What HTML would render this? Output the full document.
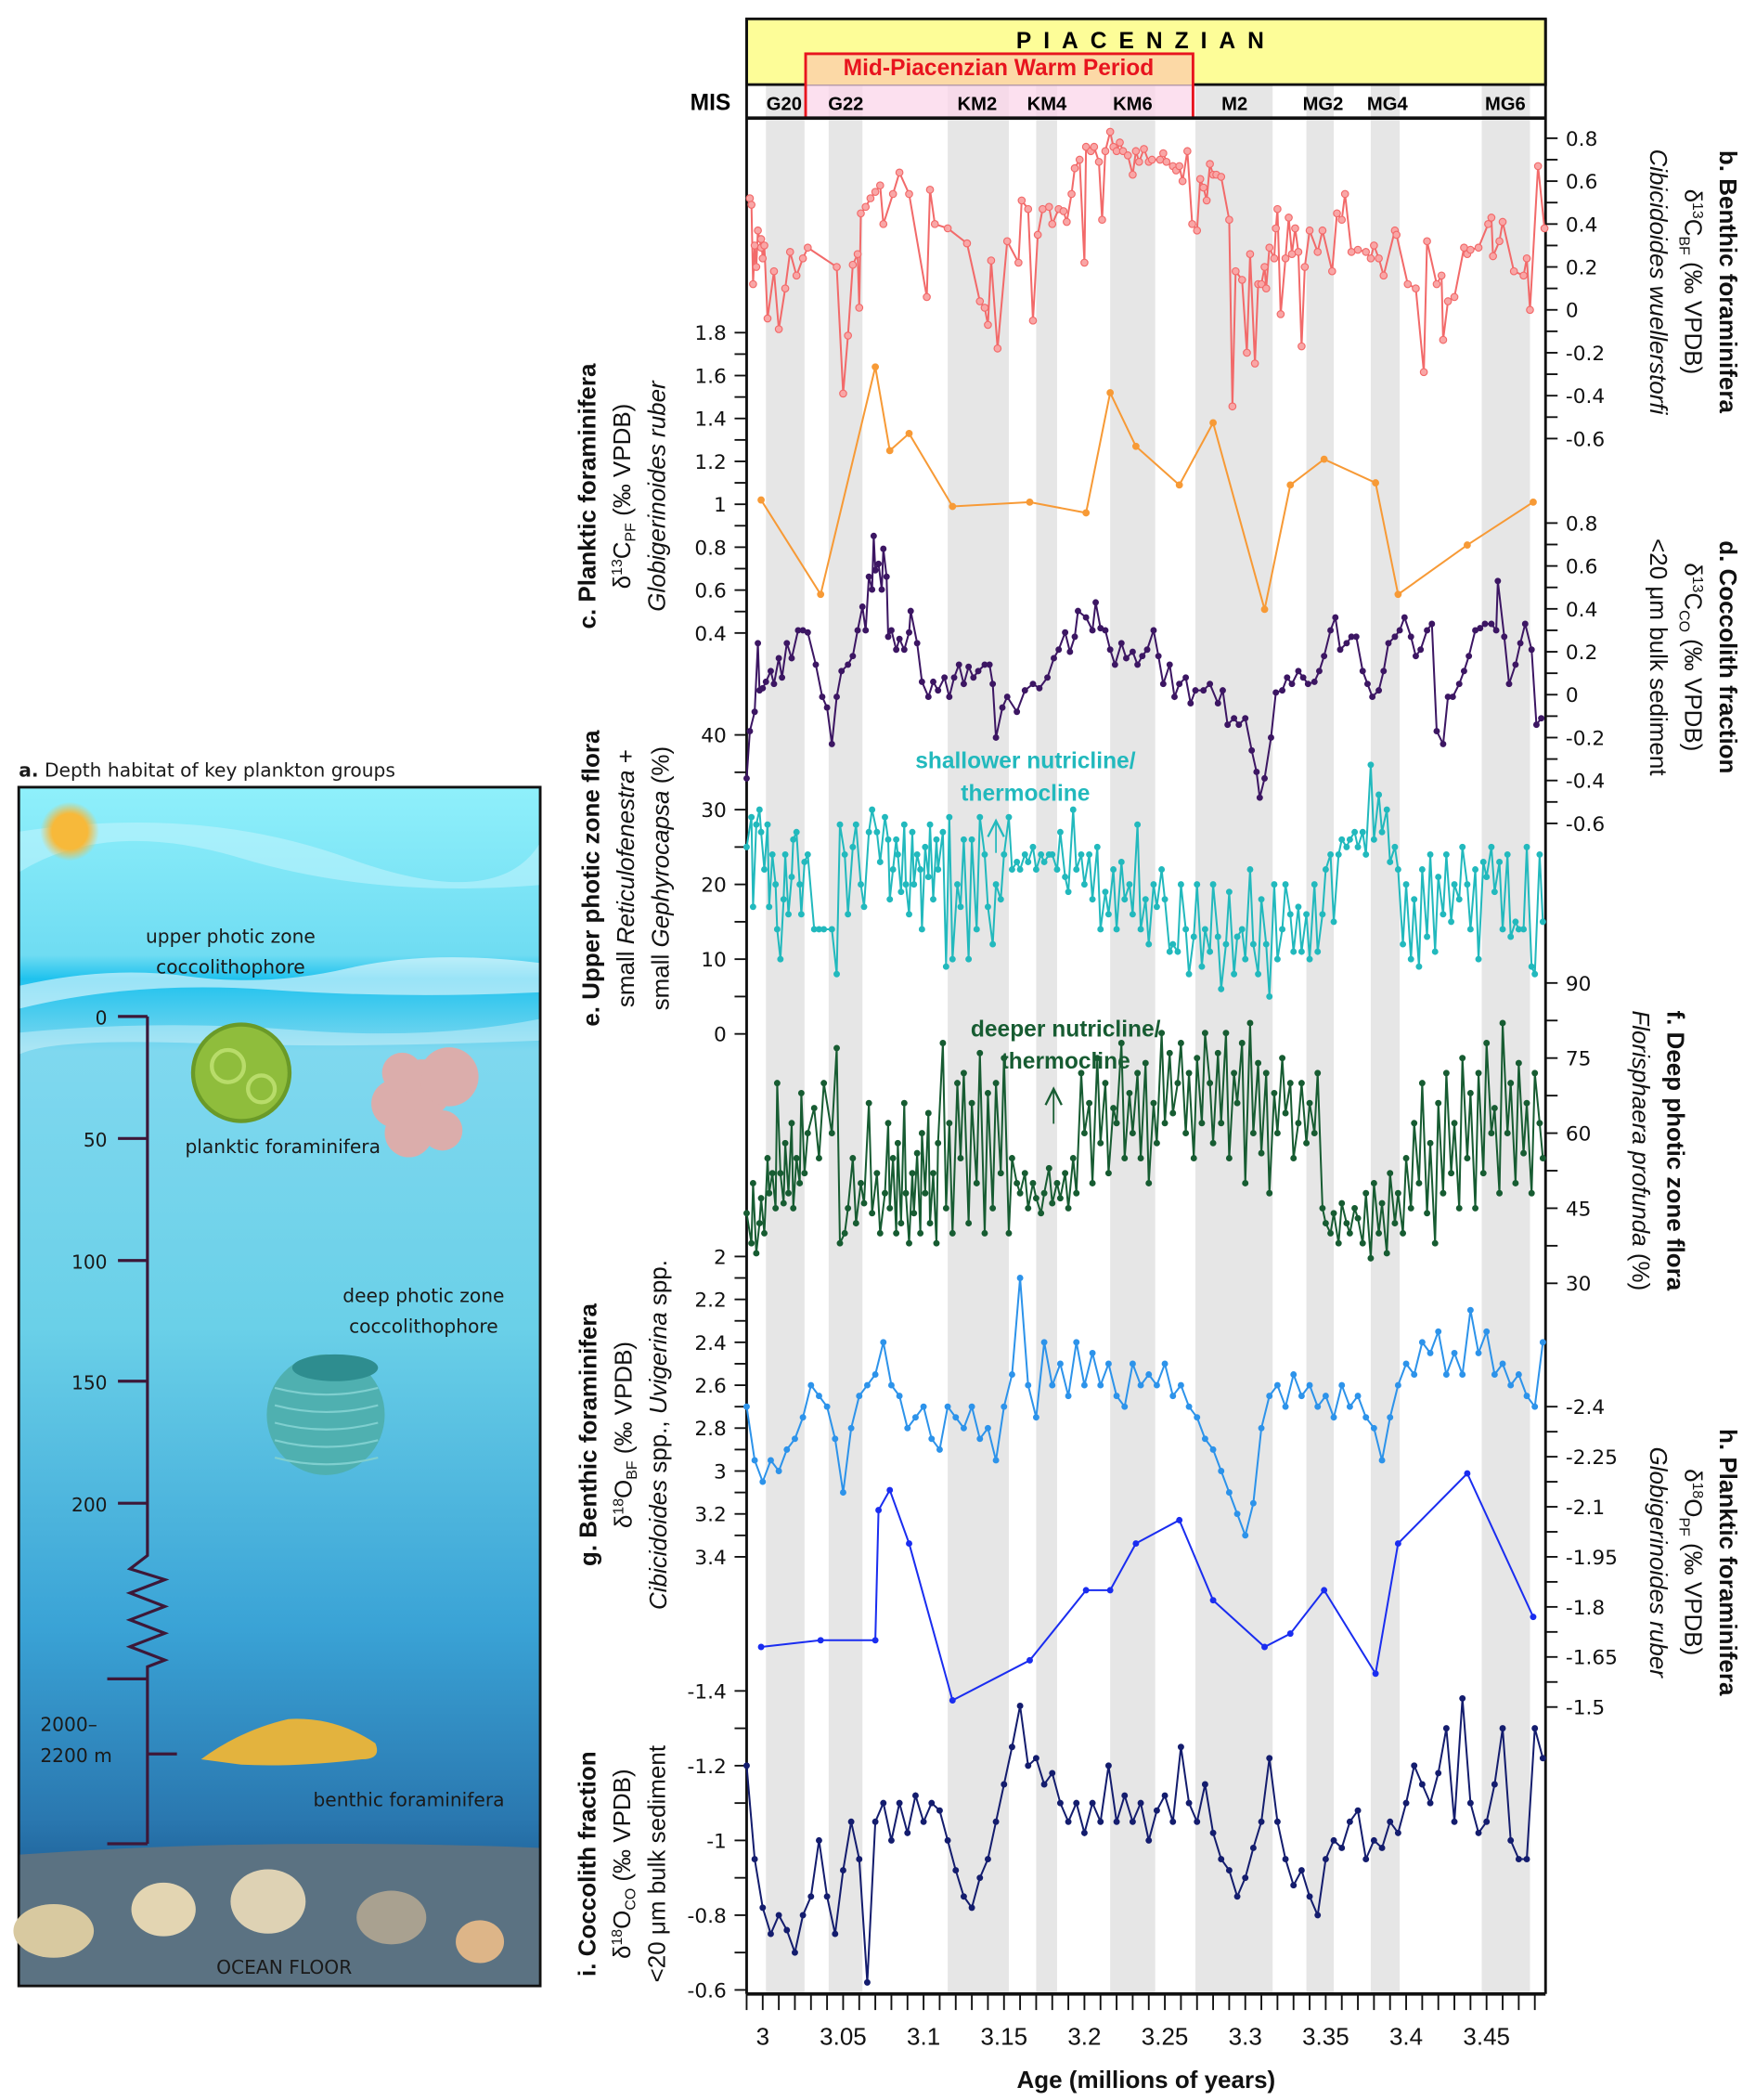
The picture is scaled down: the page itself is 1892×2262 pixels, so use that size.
<!DOCTYPE html>
<html><head><meta charset="utf-8"><title>Piacenzian records</title>
<style>
html,body{margin:0;padding:0;background:#fff;}
svg{display:block;}
.tk{font-family:"DejaVu Sans","Liberation Sans",sans-serif;font-size:15px;fill:#111;}
.ttl{font-family:"Liberation Sans Narrow","Liberation Sans",sans-serif;font-size:18px;fill:#111;}
.lp{font-family:"DejaVu Sans","Liberation Sans",sans-serif;font-size:14px;fill:#1a1a1a;}
</style></head>
<body>
<svg id="fig" width="1892" height="2262" viewBox="0 0 1310 1566" xmlns="http://www.w3.org/2000/svg">
<defs>
<linearGradient id="sea" x1="0" y1="0" x2="0" y2="1">
<stop offset="0" stop-color="#8ff0fb"/><stop offset="0.14" stop-color="#6fdcf2"/>
<stop offset="0.16" stop-color="#1fc2ee"/><stop offset="0.22" stop-color="#7fd8ef"/>
<stop offset="0.45" stop-color="#6ad0e8"/><stop offset="0.7" stop-color="#3aa3d6"/>
<stop offset="0.86" stop-color="#2a78b0"/><stop offset="0.92" stop-color="#1d5d94"/>
<stop offset="0.93" stop-color="#5a7486"/><stop offset="1" stop-color="#5a7080"/>
</linearGradient>
<radialGradient id="sun"><stop offset="0.6" stop-color="#f7b93a"/><stop offset="1" stop-color="#f7b93a" stop-opacity="0"/></radialGradient>
</defs>
<g id="panelA"></g>
<g id="chart"></g>
</svg>
<script>
// ---------- DATA ----------
const bandStart=[3.002,3.041,3.115,3.170,3.216,3.269,3.338,3.378,3.447];
const bandEnd  =[3.026,3.062,3.153,3.183,3.244,3.317,3.355,3.396,3.477];
const misLabels=["G20","G22","KM2","KM4","KM6","M2","MG2","MG4","MG6"];
const xTickLabels=["3","3.05","3.1","3.15","3.2","3.25","3.3","3.35","3.4","3.45"];
const xTickVals=[3,3.05,3.1,3.15,3.2,3.25,3.3,3.35,3.4,3.45];

const redAge=[2.992,2.993,2.994,2.995,2.996,2.997,2.999,2.999,3.000,3.001,3.003,3.007,3.010,3.014,3.017,3.021,3.025,3.028,3.046,3.050,3.053,3.056,3.059,3.060,3.061,3.064,3.067,3.070,3.073,3.075,3.081,3.085,3.091,3.102,3.104,3.107,3.115,3.127,3.135,3.138,3.140,3.142,3.146,3.152,3.159,3.161,3.165,3.168,3.171,3.174,3.178,3.180,3.184,3.187,3.189,3.192,3.194,3.197,3.200,3.201,3.204,3.206,3.209,3.211,3.213,3.216,3.218,3.220,3.222,3.224,3.227,3.230,3.232,3.234,3.237,3.240,3.242,3.247,3.249,3.251,3.255,3.257,3.259,3.261,3.264,3.267,3.270,3.272,3.274,3.276,3.278,3.280,3.282,3.285,3.290,3.292,3.294,3.298,3.301,3.303,3.306,3.308,3.310,3.312,3.313,3.315,3.318,3.319,3.320,3.322,3.325,3.327,3.329,3.331,3.333,3.335,3.337,3.340,3.345,3.348,3.354,3.357,3.360,3.362,3.366,3.370,3.375,3.378,3.380,3.383,3.386,3.393,3.394,3.401,3.406,3.411,3.413,3.419,3.422,3.423,3.426,3.430,3.436,3.438,3.440,3.445,3.451,3.453,3.454,3.458,3.460,3.467,3.473,3.475,3.477,3.482,3.486];
const redVal=[0.52,0.49,0.12,0.30,0.20,0.37,0.29,0.33,0.24,0.30,-0.04,0.18,-0.09,0.10,0.27,0.16,0.24,0.29,0.20,-0.39,-0.12,0.21,0.26,0.01,0.45,0.48,0.52,0.55,0.58,0.40,0.54,0.64,0.54,0.06,0.56,0.40,0.38,0.31,0.04,0.01,-0.07,0.23,-0.18,0.32,0.22,0.51,0.47,-0.05,0.35,0.47,0.48,0.40,0.47,0.46,0.41,0.54,0.66,0.70,0.22,0.76,0.74,0.76,0.69,0.42,0.74,0.83,0.76,0.74,0.78,0.74,0.72,0.63,0.74,0.69,0.75,0.69,0.70,0.70,0.73,0.69,0.67,0.65,0.67,0.60,0.74,0.40,0.37,0.61,0.57,0.51,0.68,0.63,0.63,0.62,0.42,-0.45,0.18,0.14,-0.20,0.26,-0.25,0.12,0.12,0.20,0.10,0.29,0.24,0.38,0.47,-0.02,0.24,0.43,0.26,0.38,0.27,-0.17,0.20,0.37,0.27,0.37,0.18,0.45,0.42,0.54,0.27,0.28,0.27,0.24,0.30,0.24,0.16,0.37,0.35,0.12,0.10,-0.29,0.32,0.12,0.16,-0.14,0.04,0.06,0.29,0.26,0.28,0.29,0.40,0.43,0.25,0.32,0.41,0.18,0.16,0.24,0.00,0.67,0.38];

const orangeAge=[2.999,3.036,3.070,3.079,3.091,3.118,3.166,3.201,3.216,3.232,3.259,3.280,3.312,3.328,3.349,3.381,3.395,3.438,3.479];
const orangeVal=[1.02,0.58,1.64,1.25,1.33,0.99,1.01,0.96,1.52,1.27,1.09,1.38,0.51,1.09,1.21,1.10,0.58,0.81,1.01];

const purpleAge=[2.990,2.992,2.995,2.997,2.998,3.000,3.002,3.005,3.007,3.010,3.012,3.015,3.018,3.022,3.025,3.028,3.033,3.037,3.040,3.043,3.046,3.049,3.053,3.056,3.059,3.062,3.064,3.066,3.068,3.069,3.070,3.072,3.074,3.075,3.077,3.078,3.080,3.083,3.085,3.088,3.091,3.092,3.096,3.099,3.103,3.106,3.109,3.113,3.116,3.119,3.122,3.125,3.128,3.131,3.134,3.138,3.141,3.143,3.145,3.149,3.152,3.158,3.163,3.168,3.172,3.177,3.181,3.184,3.188,3.191,3.194,3.196,3.201,3.205,3.207,3.210,3.213,3.216,3.219,3.223,3.226,3.230,3.233,3.236,3.239,3.243,3.246,3.249,3.253,3.256,3.259,3.263,3.266,3.269,3.274,3.278,3.283,3.286,3.289,3.293,3.296,3.300,3.304,3.307,3.309,3.312,3.316,3.319,3.323,3.326,3.329,3.333,3.336,3.339,3.343,3.346,3.349,3.353,3.356,3.359,3.363,3.366,3.369,3.373,3.376,3.379,3.383,3.386,3.389,3.393,3.396,3.399,3.403,3.406,3.409,3.413,3.416,3.419,3.423,3.426,3.429,3.433,3.436,3.439,3.443,3.446,3.449,3.453,3.456,3.457,3.461,3.464,3.468,3.471,3.474,3.478,3.481,3.484];
const purpleVal=[-0.39,-0.17,-0.08,0.24,0.02,0.03,0.06,0.11,0.05,0.17,0.08,0.24,0.17,0.30,0.30,0.29,0.14,-0.01,-0.06,-0.23,-0.01,0.11,0.14,0.18,0.30,0.41,0.30,0.55,0.49,0.74,0.58,0.61,0.49,0.68,0.55,0.27,0.30,0.21,0.26,0.21,0.29,0.39,0.24,0.06,-0.01,0.06,0.02,0.08,-0.01,0.08,0.14,0.05,0.13,0.08,0.11,0.14,0.14,0.05,-0.20,-0.06,-0.01,-0.08,0.02,0.05,0.03,0.08,0.17,0.21,0.29,0.20,0.27,0.39,0.36,0.30,0.43,0.31,0.30,0.21,0.14,0.24,0.17,0.20,0.14,0.18,0.21,0.30,0.18,0.05,0.14,-0.01,0.05,0.08,-0.04,0.02,0.02,0.05,-0.04,0.02,-0.14,-0.11,-0.14,-0.11,-0.26,-0.36,-0.48,-0.39,-0.20,0.01,0.02,0.08,0.05,0.11,0.08,0.05,0.06,0.11,0.18,0.30,0.36,0.21,0.24,0.27,0.27,0.11,0.05,-0.01,0.02,0.11,0.24,0.27,0.30,0.36,0.27,0.18,0.21,0.30,0.33,-0.17,-0.23,-0.01,-0.01,0.05,0.11,0.18,0.30,0.31,0.33,0.33,0.30,0.53,0.27,0.05,0.14,0.24,0.33,0.21,-0.14,-0.11];

const cocAge=[2.990,2.993,2.994,2.996,2.998,2.999,3.001,3.003,3.004,3.006,
3.008,3.009,3.011,3.013,3.014,3.016,3.018,3.019,3.021,3.023,
3.024,3.026,3.028,3.032,3.035,3.038,3.043,3.046,3.048,3.051,
3.053,3.056,3.058,3.061,3.063,3.066,3.068,3.071,3.073,3.076,
3.078,3.079,3.081,3.083,3.084,3.086,3.088,3.089,3.091,3.093,
3.094,3.096,3.098,3.099,3.101,3.103,3.104,3.106,3.108,3.109,
3.112,3.114,3.116,3.118,3.121,3.123,3.125,3.128,3.130,3.133,
3.135,3.138,3.140,3.143,3.145,3.148,3.150,3.153,3.155,3.158,
3.160,3.163,3.165,3.168,3.170,3.173,3.175,3.178,3.180,3.183,
3.185,3.188,3.190,3.193,3.195,3.198,3.200,3.203,3.205,3.208,
3.210,3.213,3.215,3.218,3.220,3.223,3.225,3.228,3.230,3.233,
3.235,3.238,3.240,3.243,3.245,3.248,3.250,3.253,3.255,3.258,
3.260,3.263,3.265,3.268,3.270,3.273,3.275,3.278,3.280,3.283,
3.285,3.288,3.290,3.293,3.295,3.298,3.300,3.303,3.305,3.308,
3.310,3.313,3.315,3.318,3.320,3.323,3.325,3.328,3.330,3.333,
3.335,3.338,3.340,3.343,3.345,3.348,3.350,3.353,3.355,3.358,
3.360,3.363,3.365,3.368,3.370,3.373,3.375,3.378,3.380,3.383,
3.385,3.388,3.390,3.393,3.395,3.398,3.400,3.403,3.405,3.408,
3.410,3.413,3.415,3.418,3.420,3.423,3.425,3.428,3.430,3.433,
3.435,3.438,3.440,3.443,3.445,3.448,3.450,3.453,3.455,3.458,
3.460,3.463,3.465,3.468,3.470,3.473,3.475,3.478,3.480,3.483,
3.485];
const tealVal=[25,29,17,28,30,27,22,28,17,24,
20,14,10,18,24,16,21,26,27,20,
16,23,24,14,14,14,14,8,28,24,
16,25,28,20,17,27,30,27,23,29,
26,18,22,26,24,19,28,20,16,27,
20,24,22,14,25,21,28,18,26,22,
27,9,29,10,20,17,26,10,26,14,
29,24,17,12,20,18,24,29,22,23,
22,24,23,25,22,24,23,24,24,22,
27,21,19,30,22,24,20,24,18,25,
14,19,16,22,14,23,18,20,16,28,
14,18,12,20,17,22,18,11,12,11,
20,14,8,13,20,9,14,11,20,13,
6,12,19,8,13,14,10,22,12,8,
18,12,5,20,10,14,20,16,11,17,
11,16,10,20,11,16,22,24,15,24,
26,25,26,27,25,27,24,36,26,32,
27,30,23,25,22,12,20,10,18,9,
22,13,24,11,21,16,24,15,20,18,
25,20,14,22,10,23,21,25,19,23,
14,24,13,15,14,14,25,9,8,24,
15];
const greenVal=[44,38,50,36,42,47,40,55,48,52,
45,70,52,46,58,48,62,45,55,50,
68,52,60,65,55,70,60,77,38,40,
45,55,42,50,46,66,44,52,40,48,
62,45,55,40,58,42,66,48,38,52,
44,56,40,60,48,64,42,52,38,58,
78,45,62,40,70,55,72,42,66,50,
76,40,68,45,70,52,75,40,55,50,
48,52,45,50,47,44,48,53,46,50,
47,52,45,55,48,72,60,66,50,75,
58,70,52,65,62,78,55,68,60,72,
55,74,50,66,58,80,62,76,64,70,
78,60,72,55,75,62,80,70,58,76,
62,80,55,72,66,78,50,82,60,74,
56,72,48,68,60,75,64,70,55,62,
70,58,66,60,72,45,42,40,44,38,
46,42,40,45,43,38,48,35,50,40,
46,36,52,42,48,40,55,45,62,50,
70,44,58,38,66,48,72,52,62,45,
75,55,68,45,72,52,78,60,65,48,
82,60,70,50,74,56,66,48,72,62,
55];

const ageB=[2.990,2.995,3.000,3.005,3.010,3.015,3.020,3.025,3.030,3.035,
3.040,3.045,3.050,3.055,3.060,3.065,3.070,3.075,3.080,3.085,
3.090,3.095,3.100,3.105,3.110,3.115,3.120,3.125,3.130,3.135,
3.140,3.145,3.150,3.155,3.160,3.165,3.170,3.175,3.180,3.185,
3.190,3.195,3.200,3.205,3.210,3.215,3.220,3.225,3.230,3.235,
3.240,3.245,3.250,3.255,3.260,3.265,3.270,3.275,3.280,3.285,
3.290,3.295,3.300,3.305,3.310,3.315,3.320,3.325,3.330,3.335,
3.340,3.345,3.350,3.355,3.360,3.365,3.370,3.375,3.380,3.385,
3.390,3.395,3.400,3.405,3.410,3.415,3.420,3.425,3.430,3.435,
3.440,3.445,3.450,3.455,3.460,3.465,3.470,3.475,3.480,3.485];
const lblueVal=[2.70,2.95,3.05,2.95,3.00,2.90,2.85,2.75,2.60,2.65,
2.70,2.85,3.10,2.80,2.65,2.60,2.55,2.40,2.60,2.65,
2.80,2.75,2.70,2.85,2.90,2.70,2.75,2.80,2.70,2.85,
2.80,2.95,2.70,2.55,2.10,2.60,2.75,2.40,2.60,2.50,
2.65,2.40,2.60,2.45,2.60,2.50,2.65,2.70,2.50,2.60,
2.55,2.60,2.50,2.65,2.60,2.70,2.75,2.85,2.90,3.00,
3.10,3.20,3.30,3.15,2.80,2.65,2.60,2.70,2.55,2.65,
2.60,2.70,2.65,2.75,2.60,2.70,2.65,2.75,2.80,2.95,
2.75,2.60,2.50,2.55,2.40,2.45,2.35,2.55,2.45,2.55,
2.25,2.45,2.35,2.55,2.50,2.60,2.55,2.65,2.70,2.40];
const navyVal=[-1.20,-0.95,-0.82,-0.75,-0.80,-0.76,-0.70,-0.80,-0.85,-1.00,
-0.85,-0.75,-0.92,-1.05,-0.95,-0.62,-1.05,-1.10,-1.00,-1.10,
-1.02,-1.12,-1.05,-1.10,-1.08,-1.00,-0.92,-0.85,-0.82,-0.90,
-0.95,-1.05,-1.15,-1.25,-1.36,-1.20,-1.22,-1.15,-1.18,-1.10,
-1.05,-1.10,-1.02,-1.10,-1.05,-1.20,-1.05,-1.12,-1.05,-1.10,
-1.00,-1.08,-1.12,-1.05,-1.25,-1.10,-1.05,-1.15,-1.02,-0.95,
-0.92,-0.85,-0.90,-0.98,-1.05,-1.22,-1.05,-0.95,-0.88,-0.92,
-0.85,-0.80,-0.95,-1.00,-0.98,-1.05,-1.08,-0.95,-1.00,-0.98,
-1.05,-1.02,-1.10,-1.20,-1.15,-1.10,-1.18,-1.30,-1.05,-1.38,
-1.10,-1.02,-1.05,-1.15,-1.30,-1.00,-0.95,-0.95,-1.30,-1.22];

const blueAge=[2.999,3.036,3.070,3.072,3.079,3.091,3.118,3.166,3.201,3.216,3.232,3.259,3.280,3.312,3.328,3.349,3.381,3.395,3.438,3.479];
const blueVal=[-1.68,-1.70,-1.70,-2.09,-2.15,-1.99,-1.52,-1.64,-1.85,-1.85,-1.99,-2.06,-1.82,-1.68,-1.72,-1.85,-1.60,-1.99,-2.20,-1.77];

const ticksB=[0.8,0.6,0.4,0.2,0,-0.2,-0.4,-0.6];
const ticksC=[1.8,1.6,1.4,1.2,1,0.8,0.6,0.4];
const ticksD=[0.8,0.6,0.4,0.2,0,-0.2,-0.4,-0.6];
const ticksE=[40,30,20,10,0];
const ticksF=[90,75,60,45,30];
const ticksG=[2,2.2,2.4,2.6,2.8,3,3.2,3.4];
const ticksH=[-2.4,-2.25,-2.1,-1.95,-1.8,-1.65,-1.5];
const ticksI=[-1.4,-1.2,-1,-0.8,-0.6];

// ---------- HELPERS ----------
const NS="http://www.w3.org/2000/svg";
const chart=document.getElementById('chart');
const pa=document.getElementById('panelA');
function mk(tag,attrs,parent,txt){const e=document.createElementNS(NS,tag);for(const k in attrs)e.setAttribute(k,attrs[k]);if(txt!==undefined)e.textContent=txt;(parent||chart).appendChild(e);return e;}
const X0=557,X1=1153,TOP=14,BOT=1487;
const xs=a=>569+(a-3)*1200;
const yB=v=>231-v*160, yC=v=>472-(v-0.4)*160, yD=v=>518-v*160, yE=v=>771-v*5.575,
      yF=v=>957-(v-30)*3.733, yG=v=>937+(v-2)*160, yH=v=>1049+(v+2.4)*248.9, yI=v=>1261+(v+1.4)*278.75;

// ---------- PANEL A ----------
mk('text',{x:14,y:579,class:'lp','font-size':'15.5'},pa,'').innerHTML='<tspan font-weight="bold">a.</tspan> Depth habitat of key plankton groups';

let r=mk('rect',{x:14,y:587,width:389,height:894,fill:'url(#sea)',stroke:'#111','stroke-width':2},pa);

mk('path',{d:'M15 620 Q150 600 260 640 T402 630 L402 660 Q280 670 180 640 T15 650Z',fill:'#c9f6fd',opacity:0.5},pa);
mk('path',{d:'M15 735 Q80 720 140 728 T260 722 T402 718 L402 740 Q300 745 200 738 T15 752Z',fill:'#ffffff',opacity:0.55},pa);
mk('path',{d:'M15 770 Q120 760 220 768 T402 760 L402 776 Q260 782 150 778 T15 786Z',fill:'#ffffff',opacity:0.35},pa);
mk('path',{d:'M15 1383 Q200 1370 402 1378 L402 1480 L15 1480Z',fill:'#5b7282'},pa);
mk('circle',{cx:52,cy:620,r:22,fill:'url(#sun)'},pa);
// depth axis
const dg=mk('g',{stroke:'#3d1838','stroke-width':2.2,fill:'none'},pa);

mk('path',{d:'M110 758 L110 1160 L97 1170 L123 1178 L97 1188 L123 1198 L97 1208 L123 1218 L97 1228 L123 1238 L110 1243 L110 1375'},dg);
const depthLab=['0','50','100','150','200'];const depthY=[758,849,940,1030,1121];
depthLab.forEach((l,i)=>{mk('line',{x1:88,x2:110,y1:depthY[i],y2:depthY[i]},dg);const t=mk('text',{x:80,y:depthY[i]+6,'text-anchor':'end',class:'lp','font-size':'17',fill:'#3d1838'},pa,l);});
mk('line',{x1:80,x2:110,y1:1252,y2:1252},dg);mk('line',{x1:110,x2:132,y1:1308,y2:1308},dg);mk('line',{x1:80,x2:110,y1:1375,y2:1375},dg);
mk('text',{x:30,y:1291,class:'lp','font-size':'17',fill:'#3d1838'},pa,'2000–');
mk('text',{x:30,y:1314,class:'lp','font-size':'17',fill:'#3d1838'},pa,'2200 m');
// organisms
let o=mk('circle',{cx:180,cy:800,r:36,fill:'#8fbd3c',stroke:'#6a9a28','stroke-width':3},pa);
mk('circle',{cx:170,cy:795,r:12,fill:'none',stroke:'#b8dc6a','stroke-width':3},pa);mk('circle',{cx:195,cy:812,r:10,fill:'none',stroke:'#b8dc6a','stroke-width':3},pa);
const pf=mk('g',{fill:'#e6a9a4',opacity:0.9},pa);
[[315,812,22],[295,823,18],[335,803,22],[305,845,18],[330,843,15],[300,800,15]].forEach(c=>mk('circle',{cx:c[0],cy:c[1],r:c[2]},pf));
const dp=mk('g',{},pa);
mk('ellipse',{cx:243,cy:1055,rx:44,ry:45,fill:'#4fb0b0'},dp);mk('ellipse',{cx:250,cy:1020,rx:32,ry:10,fill:'#2e8d8f'},dp);
for(let k=0;k<5;k++)mk('path',{d:`M205 ${1035+k*13} Q243 ${1045+k*13} 282 ${1035+k*13}`,stroke:'#7fcfcf','stroke-width':1.5,fill:'none'},dp);
const bf=mk('path',{d:'M150 1312 Q180 1290 215 1282 Q250 1280 280 1300 Q285 1312 270 1312 Q220 1318 180 1316Z',fill:'#e3b33e'},pa);
[[40,1440,30,20,'#d8c9a0'],[122,1424,24,20,'#e3d5b2'],[200,1418,28,24,'#ded2b4'],[292,1430,26,20,'#a9a190'],[358,1448,18,16,'#ddb588']].forEach(f=>{const e=mk('ellipse',{cx:f[0],cy:f[1],rx:f[2],ry:f[3],fill:f[4]},pa);});
const txts=[['upper photic zone',172,703],['coccolithophore',172,726],['planktic foraminifera',211,860],['deep photic zone',316,971],['coccolithophore',316,994],['benthic foraminifera',305,1347],['OCEAN FLOOR',212,1472]];
txts.forEach(t=>{const e=mk('text',{x:t[1],y:t[2],'text-anchor':'middle',class:'lp','font-size':'14.5'},pa,t[0]);});

// ---------- CHART ----------
// bands
bandStart.forEach((s,i)=>{const b=mk('rect',{x:xs(s),y:63,width:xs(bandEnd[i])-xs(s),height:BOT-63,fill:'#e6e6e6'});});
// header
let h=mk('rect',{x:X0,y:TOP,width:X1-X0,height:49,fill:'#fdfd98',stroke:'#111','stroke-width':2});
let mp=mk('rect',{x:601,y:40,width:289,height:23,fill:'#fcd9a6'});
let mp2=mk('rect',{x:601,y:63,width:289,height:25,fill:'#fbd6ea',opacity:0.75});
let mpb=mk('rect',{x:601,y:40,width:289,height:48,fill:'none',stroke:'#e8141e','stroke-width':2});
let t1=mk('text',{x:855,y:36,'text-anchor':'middle','font-family':'Liberation Sans,sans-serif','font-size':'17','font-weight':'bold','letter-spacing':'9'},chart,'PIACENZIAN');
let t2=mk('text',{x:745,y:56,'text-anchor':'middle','font-family':'Liberation Sans Narrow,Liberation Sans,sans-serif','font-size':'17','font-weight':'bold',fill:'#e8141e'},chart,'Mid-Piacenzian Warm Period');
mk('line',{x1:X0,x2:X1,y1:88,y2:88,stroke:'#111','stroke-width':2.5});
let mt=mk('text',{x:530,y:82,'text-anchor':'middle','font-family':'Liberation Sans Narrow,Liberation Sans,sans-serif','font-size':'17','font-weight':'bold'},chart,'MIS');
const misX=[585,631,729,781,845,921,987,1035,1123];
misLabels.forEach((l,i)=>{const e=mk('text',{x:misX[i],y:82,'text-anchor':'middle','font-family':'Liberation Sans Narrow,Liberation Sans,sans-serif','font-size':'14','font-weight':'bold'},chart,l);});
// frame
mk('line',{x1:X0,x2:X0,y1:TOP,y2:BOT,stroke:'#111','stroke-width':2});
mk('line',{x1:X1,x2:X1,y1:TOP,y2:BOT,stroke:'#111','stroke-width':2});
mk('line',{x1:X0,x2:X1,y1:BOT,y2:BOT,stroke:'#111','stroke-width':2.5});
// x ticks
for(let k=0;k<=49;k++){const a=2.99+k*0.01;mk('line',{x1:xs(a),x2:xs(a),y1:BOT,y2:BOT+12,stroke:'#111','stroke-width':1.3});}
xTickVals.forEach((v,i)=>{const e=mk('text',{x:xs(v),y:1525,'text-anchor':'middle',class:'ttl','font-size':'17'},chart,xTickLabels[i]);});
let xt=mk('text',{x:855,y:1557,'text-anchor':'middle',class:'ttl','font-size':'19','font-weight':'bold'},chart,'Age (millions of years)');

function axis(ticks,yf,side,name){
  const g=mk('g',{});
  const sx=side==='right'?X1:X0, d=side==='right'?1:-1;
  ticks.forEach((v,i)=>{const y=yf(v);mk('line',{x1:sx,x2:sx+d*9,y1:y,y2:y,stroke:'#111','stroke-width':1.3},g);
    if(i<ticks.length-1){const ym=(y+yf(ticks[i+1]))/2;mk('line',{x1:sx,x2:sx+d*9,y1:ym,y2:ym,stroke:'#111','stroke-width':1.3},g);}
    const e=mk('text',{x:sx+d*15,y:y+5.5,'text-anchor':side==='right'?'start':'end',class:'tk'},g,String(v));});
}
axis(ticksB,yB,'right','axis-b');axis(ticksC,yC,'left','axis-c');axis(ticksD,yD,'right','axis-d');axis(ticksE,yE,'left','axis-e');
axis(ticksF,yF,'right','axis-f');axis(ticksG,yG,'left','axis-g');axis(ticksH,yH,'right','axis-h');axis(ticksI,yI,'left','axis-i');

function series(ages,vals,yf,color,rad,name,fill){
  const g=mk('g',{});
  const n=Math.min(ages.length,vals.length);let d='';
  for(let i=0;i<n;i++)d+=(i?'L':'M')+xs(ages[i]).toFixed(1)+' '+yf(vals[i]).toFixed(1);
  mk('path',{d:d,fill:'none',stroke:color,'stroke-width':1.4},g);
  for(let i=0;i<n;i++){const c=mk('circle',{cx:xs(ages[i]),cy:yf(vals[i]),r:rad,fill:fill||color,stroke:color,'stroke-width':0.8},g);
    
    }
}
series(redAge,redVal,yB,'#f26a6a',2.6,'benthic-d13c','#f9a6a6');
series(orangeAge,orangeVal,yC,'#f79a36',2.3,'planktic-d13c');
series(purpleAge,purpleVal,yD,'#3c1663',2,'coccolith-d13c');
series(cocAge,tealVal,yE,'#22b9bd',2,'upper-photic-flora');
series(cocAge,greenVal,yF,'#175c32',2,'deep-photic-flora');
series(ageB,lblueVal,yG,'#2d93ea',2,'benthic-d18o');
series(blueAge,blueVal,yH,'#1a2df0',2,'planktic-d18o');
series(ageB,navyVal,yI,'#141d6e',2,'coccolith-d18o');

// annotations
function ann(lines,x,y,color,ax,ay1,ay2,name){
  const g=mk('g',{});
  lines.forEach((l,i)=>mk('text',{x:x,y:y+i*24,'text-anchor':'middle','font-family':'Liberation Sans Narrow,Liberation Sans,sans-serif','font-size':'17','font-weight':'bold',fill:color},g,l));
  mk('line',{x1:ax,x2:ax,y1:ay1,y2:ay2,stroke:color,'stroke-width':1.2},g);
  mk('path',{d:`M${ax-6} ${ay2+12} L${ax} ${ay2} L${ax+6} ${ay2+12}`,stroke:color,'stroke-width':1.6,fill:'none'},g);
}
ann(['shallower nutricline/','thermocline'],765,573,'#22b9bd',743,636,612,'shallower-annotation');
ann(['deeper nutricline/','thermocline'],795,773,'#175c32',786,838,812,'deeper-annotation');

// rotated titles
function vtitle(cx,cy,rot,lines,name){
  const g=mk('g',{transform:`translate(${cx},${cy}) rotate(${rot})`});
  lines.forEach((l,i)=>{const t=mk('text',{x:0,y:(i-1)*26+6,'text-anchor':'middle',class:'ttl'},g);t.innerHTML=l;});
}
vtitle(1263,210,90,['<tspan font-weight="bold">b. Benthic foraminifera</tspan>','δ<tspan font-size="11" dy="-6">13</tspan><tspan dy="6">C</tspan><tspan font-size="11" dy="4">BF</tspan><tspan dy="-4"> (‰ VPDB)</tspan>','<tspan font-style="italic">Cibicidoides wuellerstorfi</tspan>'],'title-b');
vtitle(1263,490,90,['<tspan font-weight="bold">d. Coccolith fraction</tspan>','δ<tspan font-size="11" dy="-6">13</tspan><tspan dy="6">C</tspan><tspan font-size="11" dy="4">CO</tspan><tspan dy="-4"> (‰ VPDB)</tspan>','&lt;20 μm bulk sediment'],'title-d');
vtitle(1250,858,90,['','<tspan font-weight="bold">f. Deep photic zone flora</tspan>','<tspan font-style="italic">Florisphaera profunda</tspan> (%)'],'title-f');
vtitle(1263,1165,90,['<tspan font-weight="bold">h. Planktic foraminifera</tspan>','δ<tspan font-size="11" dy="-6">18</tspan><tspan dy="6">O</tspan><tspan font-size="11" dy="4">PF</tspan><tspan dy="-4"> (‰ VPDB)</tspan>','<tspan font-style="italic">Globigerinoides ruber</tspan>'],'title-h');
vtitle(464,370,-90,['<tspan font-weight="bold">c. Planktic foraminifera</tspan>','δ<tspan font-size="11" dy="-6">13</tspan><tspan dy="6">C</tspan><tspan font-size="11" dy="4">PF</tspan><tspan dy="-4"> (‰ VPDB)</tspan>','<tspan font-style="italic">Globigerinoides ruber</tspan>'],'title-c');
vtitle(467,655,-90,['<tspan font-weight="bold">e. Upper photic zone flora</tspan>','small <tspan font-style="italic">Reticulofenestra</tspan> +','small <tspan font-style="italic">Gephyrocapsa</tspan> (%)'],'title-e');
vtitle(465,1070,-90,['<tspan font-weight="bold">g. Benthic foraminifera</tspan>','δ<tspan font-size="11" dy="-6">18</tspan><tspan dy="6">O</tspan><tspan font-size="11" dy="4">BF</tspan><tspan dy="-4"> (‰ VPDB)</tspan>','<tspan font-style="italic">Cibicidoides</tspan> spp., <tspan font-style="italic">Uvigerina</tspan> spp.'],'title-g');
vtitle(464,1390,-90,['<tspan font-weight="bold">i. Coccolith fraction</tspan>','δ<tspan font-size="11" dy="-6">18</tspan><tspan dy="6">O</tspan><tspan font-size="11" dy="4">CO</tspan><tspan dy="-4"> (‰ VPDB)</tspan>','&lt;20 μm bulk sediment'],'title-i');
</script>
</body></html>
